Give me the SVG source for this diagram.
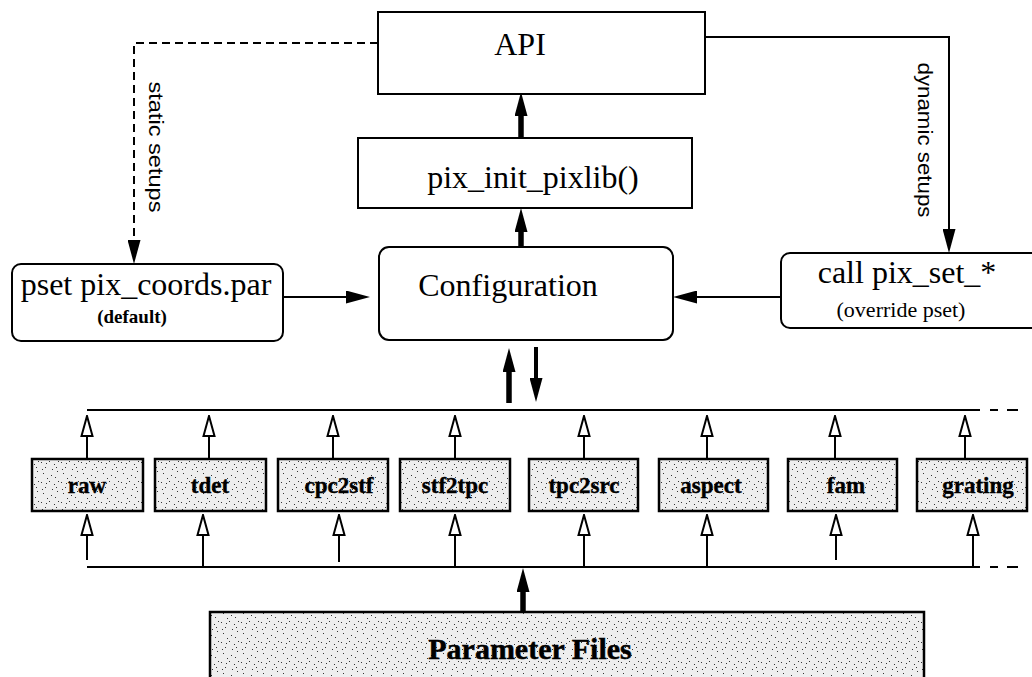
<svg xmlns="http://www.w3.org/2000/svg" width="1032" height="677" viewBox="0 0 1032 677">
<style>
.box{fill:#fff;stroke:#000;stroke-width:2}
.stip{fill:url(#stipple);stroke:#000;stroke-width:2.5}
.t{font-family:"Liberation Serif","Times New Roman",serif;fill:#000}
.big{font-size:32px}
.mod{font-size:23px;font-weight:bold;text-anchor:middle;stroke:#000;stroke-width:0.4}
.side{font-family:"Liberation Sans Narrow","Liberation Sans",Arial,sans-serif;font-size:20px;text-anchor:middle}
.ln{fill:none;stroke:#000;stroke-width:2}
.dash{stroke-dasharray:8 5}
.thk{fill:none;stroke:#000;stroke-width:5.5}
.hol{marker-end:url(#hol)}
</style>
<defs>
<pattern id="stipple" width="20" height="20" patternUnits="userSpaceOnUse">
<rect width="20" height="20" fill="#eeeeee"/>
<g fill="#333">
<rect x="1" y="2" width="1" height="1"/><rect x="5" y="7" width="1" height="1"/><rect x="9" y="1" width="1" height="1"/>
<rect x="14" y="4" width="1" height="1"/><rect x="17" y="11" width="1" height="1"/><rect x="3" y="13" width="1" height="1"/>
<rect x="11" y="15" width="1" height="1"/><rect x="7" y="18" width="1" height="1"/><rect x="15" y="17" width="1" height="1"/>
<rect x="12" y="9" width="1" height="1"/><rect x="2" y="9" width="1" height="1"/><rect x="18" y="1" width="1" height="1"/>
<rect x="6" y="3" width="1" height="1"/><rect x="16" y="7" width="1" height="1"/>
</g>
</pattern>
<marker id="sol" viewBox="0 0 24 13" markerWidth="24" markerHeight="13" refX="0" refY="6.5" orient="auto" markerUnits="userSpaceOnUse">
<path d="M0,0 L24,6.5 L0,13 Z" fill="#000" stroke="none"/>
</marker>
<marker id="thk" viewBox="0 0 24 13" markerWidth="24" markerHeight="13" refX="0" refY="6.5" orient="auto" markerUnits="userSpaceOnUse">
<path d="M0,0 L24,6.5 L0,13 Z" fill="#000" stroke="none"/>
</marker>
<marker id="hol" viewBox="-1.5 -1.5 23 14" markerWidth="23" markerHeight="14" refX="0" refY="5.5" orient="auto" markerUnits="userSpaceOnUse">
<path d="M0,0 L20,5.5 L0,11 Z" fill="#fff" stroke="#000" stroke-width="2"/>
</marker>
</defs>

<g id="connectors">
<path class="ln dash" d="M378,43 H134 V240" marker-end="url(#sol)"/>
<path class="ln" d="M700,37 H949 V229" marker-end="url(#sol)"/>
<path class="ln" d="M283,297 H346" marker-end="url(#sol)"/>
<path class="ln" d="M781,297 H697" marker-end="url(#sol)"/>
<path class="thk" d="M521,138 V116" marker-end="url(#thk)"/>
<path class="thk" d="M521,247 V232" marker-end="url(#thk)"/>
<path class="thk" d="M509,403 V372" marker-end="url(#thk)"/>
<path class="ln" style="stroke-width:4" d="M536,347 V378" marker-end="url(#sol)"/>
<path class="thk" d="M523,612 V592" marker-end="url(#thk)"/>
<path class="ln" d="M87,410 H980"/>
<path class="ln" d="M990,410 H998 M1007,410 H1018"/>
<path class="ln" d="M87,567 H980"/>
<path class="ln" d="M990,567 H998 M1007,567 H1018"/>
<g class="ln">
<path class="hol" d="M87,459 V436"/>
<path class="hol" d="M209,459 V436"/>
<path class="hol" d="M333,459 V436"/>
<path class="hol" d="M455,459 V436"/>
<path class="hol" d="M584,459 V436"/>
<path class="hol" d="M707,459 V436"/>
<path class="hol" d="M835,459 V436"/>
<path class="hol" d="M965,459 V436"/>
<path class="hol" d="M87,560 V535"/>
<path class="hol" d="M203,567 V535"/>
<path class="hol" d="M339,562 V535"/>
<path class="hol" d="M455,567 V535"/>
<path class="hol" d="M584,567 V535"/>
<path class="hol" d="M707,567 V535"/>
<path class="hol" d="M836,560 V535"/>
<path class="hol" d="M973,567 V535"/>
</g>
<text class="side" transform="translate(149,147) rotate(90)" textLength="131" lengthAdjust="spacingAndGlyphs">static setups</text>
<text class="side" transform="translate(918,140) rotate(90)" textLength="155" lengthAdjust="spacingAndGlyphs">dynamic setups</text>
</g>

<g id="api">
<rect class="box" x="378" y="12" width="327" height="82"/>
<text class="t big" x="520" y="55" text-anchor="middle">API</text>
</g>
<g id="pix_init">
<rect class="box" x="358" y="138" width="334" height="70"/>
<text class="t big" x="533" y="188" text-anchor="middle">pix_init_pixlib()</text>
</g>
<g id="pset">
<rect class="box" x="12" y="264" width="271" height="77" rx="9"/>
<text class="t big" x="146" y="295" text-anchor="middle">pset pix_coords.par</text>
<text class="t" x="132" y="323" text-anchor="middle" font-size="19" font-weight="bold">(default)</text>
</g>
<g id="configuration">
<rect class="box" x="379" y="247" width="294" height="93" rx="10"/>
<text class="t big" x="508" y="296" text-anchor="middle">Configuration</text>
</g>
<g id="call">
<rect class="box" x="781" y="253" width="270" height="75" rx="9"/>
<text class="t big" x="907" y="283" text-anchor="middle">call pix_set_*</text>
<text class="t" x="901" y="317" text-anchor="middle" font-size="22">(override pset)</text>
</g>

<g id="raw"><rect class="stip" x="32" y="459" width="111" height="52"/><text class="t mod" x="87" y="493">raw</text></g>
<g id="tdet"><rect class="stip" x="155" y="459" width="111" height="52"/><text class="t mod" x="210" y="493">tdet</text></g>
<g id="cpc2stf"><rect class="stip" x="278" y="459" width="110" height="52"/><text class="t mod" x="339" y="493">cpc2stf</text></g>
<g id="stf2tpc"><rect class="stip" x="400" y="459" width="110" height="52"/><text class="t mod" x="455" y="493">stf2tpc</text></g>
<g id="tpc2src"><rect class="stip" x="529" y="459" width="109" height="52"/><text class="t mod" x="584" y="493">tpc2src</text></g>
<g id="aspect"><rect class="stip" x="659" y="459" width="109" height="52"/><text class="t mod" x="711" y="493">aspect</text></g>
<g id="fam"><rect class="stip" x="788" y="459" width="109" height="52"/><text class="t mod" x="846" y="493">fam</text></g>
<g id="grating"><rect class="stip" x="917" y="459" width="110" height="52"/><text class="t mod" x="978" y="493">grating</text></g>

<g id="parameter_files">
<rect class="stip" x="210" y="612" width="714" height="80"/>
<text class="t" x="530" y="659" text-anchor="middle" font-size="30" font-weight="bold" stroke="#000" stroke-width="0.5">Parameter Files</text>
</g>
</svg>
